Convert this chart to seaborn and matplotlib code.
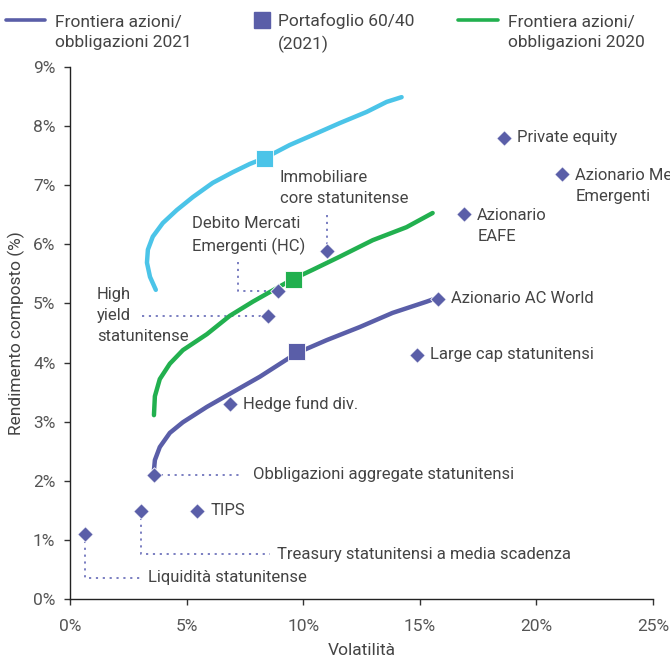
import matplotlib
matplotlib.use("Agg")
import matplotlib.pyplot as plt
from matplotlib.lines import Line2D
from matplotlib.ticker import FuncFormatter
import seaborn as sns
import pandas as pd

# --- data -----------------------------------------------------------------
asset_names = [
    "Liquidità statunitense",
    "Treasury statunitensi a media scadenza",
    "TIPS",
    "Obbligazioni aggregate statunitensi",
    "Hedge fund div.",
    "High\nyield\nstatunitense",
    "Debito Mercati\nEmergenti (HC)",
    "Immobiliare\ncore statunitense",
    "Large cap statunitensi",
    "Azionario AC World",
    "Azionario\nEAFE",
    "Private equity",
    "Azionario Mercati\nEmergenti",
]
asset_vol = [0.64, 3.04, 5.44, 3.60, 6.85, 8.48, 8.90, 11.00, 14.86, 15.76, 16.90, 18.60, 21.10]
asset_ret = [1.10, 1.49, 1.49, 2.10, 3.30, 4.79, 5.21, 5.89, 4.13, 5.08, 6.51, 7.80, 7.19]

frontier_2021_vol = [3.60, 3.64, 3.85, 4.28, 4.84, 5.87, 6.98, 8.14, 9.72, 11.01, 12.42, 13.83, 15.29, 15.72]
frontier_2021_ret = [2.18, 2.35, 2.57, 2.81, 2.99, 3.25, 3.50, 3.76, 4.16, 4.38, 4.60, 4.84, 5.03, 5.09]

frontier_2020_vol = [3.60, 3.64, 3.85, 4.28, 4.84, 5.87, 6.85, 7.84, 8.87, 9.55, 10.41, 11.56, 12.98, 14.43, 15.55]
frontier_2020_ret = [3.11, 3.43, 3.72, 3.98, 4.21, 4.48, 4.79, 5.03, 5.26, 5.41, 5.57, 5.79, 6.07, 6.29, 6.53]

frontier_top_vol = [3.68, 3.43, 3.30, 3.34, 3.55, 3.98, 4.58, 5.27, 6.12, 6.98, 7.71, 8.35,
                    9.42, 10.41, 11.56, 12.72, 13.58, 14.22]
frontier_top_ret = [5.23, 5.45, 5.69, 5.91, 6.13, 6.36, 6.58, 6.80, 7.04, 7.22, 7.36, 7.46,
                    7.68, 7.85, 8.05, 8.24, 8.41, 8.49]

portfolio_vol = [9.72, 9.59, 8.35]
portfolio_ret = [4.18, 5.41, 7.46]

x_ticks = [0, 5, 10, 15, 20, 25]
y_ticks = [0, 1, 2, 3, 4, 5, 6, 7, 8, 9]

legend_labels = ["Frontiera azioni/\nobbligazioni 2021", "Portafoglio 60/40\n(2021)",
                 "Frontiera azioni/\nobbligazioni 2020"]

# --- style ----------------------------------------------------------------
PURPLE = "#5a5ea8"
GREEN = "#22b04f"
CYAN = "#4bc4e8"
DOT = "#7074bc"
TEXT = "#444444"

sns.set_theme(style="white")
plt.rcParams["font.family"] = ["Roboto", "DejaVu Sans"]
plt.rcParams["text.color"] = TEXT
FS = 12
LS = 1.5

fig = plt.figure(figsize=(6.7, 6.6), dpi=100)
ax = fig.add_axes([70 / 670, 61 / 660, 583 / 670, 532 / 660])

assets = pd.DataFrame({"name": asset_names, "vol": asset_vol, "ret": asset_ret})
curves = pd.concat([
    pd.DataFrame({"vol": frontier_top_vol, "ret": frontier_top_ret, "serie": "top"}),
    pd.DataFrame({"vol": frontier_2020_vol, "ret": frontier_2020_ret, "serie": "2020"}),
    pd.DataFrame({"vol": frontier_2021_vol, "ret": frontier_2021_ret, "serie": "2021"}),
], ignore_index=True)
ports = pd.DataFrame({"vol": portfolio_vol, "ret": portfolio_ret, "serie": ["2021", "2020", "top"]})
palette = {"2021": PURPLE, "2020": GREEN, "top": CYAN}

sns.lineplot(data=curves, x="vol", y="ret", hue="serie", units="serie", estimator=None,
             sort=False, palette=palette, linewidth=3.2, legend=False, ax=ax,
             solid_capstyle="round", solid_joinstyle="round")

# dotted leader lines (drawn beneath the markers)
lk = dict(color=DOT, lw=1.3, ls=(0, (1.2, 2.6)), zorder=1)
ax.plot([0.64, 0.64, 3.0], [1.10, 0.36, 0.36], **lk)
ax.plot([3.04, 3.04, 8.57], [1.49, 0.76, 0.76], **lk)
ax.plot([3.60, 7.41], [2.10, 2.10], **lk)
ax.plot([3.08, 8.48], [4.79, 4.79], **lk)
ax.plot([7.19, 7.19, 8.90], [5.70, 5.21, 5.21], **lk)
ax.plot([11.0, 11.0], [6.50, 5.89], **lk)

sns.scatterplot(data=assets, x="vol", y="ret", marker="D", s=62, color=PURPLE,
                edgecolor="white", linewidth=0.6, ax=ax, zorder=4)
sns.scatterplot(data=ports, x="vol", y="ret", hue="serie", palette=palette, marker="s",
                s=150, edgecolor="white", linewidth=0.6, legend=False, ax=ax, zorder=5)

# labels beside markers
def side(i, dy=0):
    ax.annotate(asset_names[i], (asset_vol[i], asset_ret[i]), xytext=(9.5, dy),
                textcoords="offset points", va="center", ha="left", fontsize=FS,
                color=TEXT, linespacing=LS, annotation_clip=False)

side(2)
side(4)
side(8)
side(9)
side(10, -8.3)
side(11)
side(12, -8.3)

tk = dict(fontsize=FS, color=TEXT, va="center", ha="left", linespacing=LS)
ax.text(3.34, 0.36, asset_names[0], **tk)
ax.text(8.87, 0.76, asset_names[1], **tk)
ax.text(7.84, 2.10, asset_names[3], **tk)
ax.text(1.16, 4.79, asset_names[5], **tk)
ax.text(5.22, 6.15, asset_names[6], **tk)
ax.text(9.0, 6.95, asset_names[7], **tk)

# axes
ax.set_xlim(0, 25)
ax.set_ylim(0, 9)
ax.set_xticks(x_ticks)
ax.set_yticks(y_ticks)
ax.xaxis.set_major_formatter(FuncFormatter(lambda v, p: f"{v:.0f}%"))
ax.yaxis.set_major_formatter(FuncFormatter(lambda v, p: f"{v:.0f}%"))
ax.tick_params(axis="both", direction="out", length=4.5, width=1, color="#333333",
               labelsize=12.5, labelcolor="#555555", pad=6, bottom=True, left=True)
ax.tick_params(axis="x", pad=10)
for s in ["top", "right"]:
    ax.spines[s].set_visible(False)
for s in ["left", "bottom"]:
    ax.spines[s].set_color("#222222")
    ax.spines[s].set_linewidth(1.0)
ax.set_xlabel("Volatilità", fontsize=12.5, color=TEXT, labelpad=6.5)
ax.set_ylabel("Rendimento composto (%)", fontsize=12.5, color=TEXT, labelpad=6)

# legend across the top
def fx(px):
    return px / 670
def fy(py):
    return 1 - py / 660

fig.add_artist(Line2D([fx(6), fx(45)], [fy(20), fy(20)], color=PURPLE, lw=2.6))
fig.add_artist(Line2D([fx(262)], [fy(20)], marker="s", markersize=11, color=PURPLE, lw=0))
fig.add_artist(Line2D([fx(458), fx(498)], [fy(20), fy(20)], color=GREEN, lw=2.6))
for x0, lab in zip([55, 278, 508], legend_labels):
    fig.text(fx(x0), fy(32.5), lab, fontsize=12.5, color=TEXT, va="center", ha="left",
             linespacing=LS)

fig.savefig("out.png", dpi=100)
